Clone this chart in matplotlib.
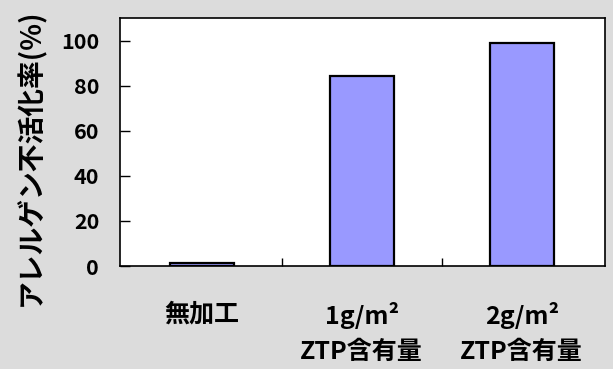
import matplotlib
matplotlib.use("Agg")
import matplotlib.pyplot as plt
import numpy as np

plt.rcParams['font.family'] = ['Noto Sans CJK JP', 'DejaVu Sans']

categories = ["無加工", "1g/m²\nZTP含有量", "2g/m²\nZTP含有量"]
values = [1.5, 84.3, 99.0]
yticks = [0, 20, 40, 60, 80, 100]
ylabel = "アレルゲン不活化率(%)"

bg = "#dcdcdc"
fig = plt.figure(figsize=(6.13, 3.69), dpi=100, facecolor=bg)
ax = fig.add_axes([0.1958, 0.279, 0.791, 0.672])
ax.set_facecolor("white")

x = np.arange(len(categories))
ax.bar(x, values, width=0.4, color="#9999ff", edgecolor="black", linewidth=1.6, zorder=3)

ax.set_xlim(-0.51, 2.52)
ax.set_ylim(0, 110)
ax.set_yticks(yticks)
ax.set_yticklabels([str(v) for v in yticks], fontsize=15.5, fontweight="bold")
ax.tick_params(axis="y", direction="in", length=7, width=1, pad=15, left=True)

ax.set_xticks(x)
ax.set_xticklabels(categories, fontsize=18, fontweight="bold", linespacing=1.55)
ax.tick_params(axis="x", length=0, pad=26)
ax.set_xticks([0.5, 1.5], minor=True)
ax.tick_params(axis="x", which="minor", direction="in", length=6, width=1)

for s in ax.spines.values():
    s.set_color("black")
    s.set_linewidth(1.2)

fig.text(0.049, 0.575, ylabel, rotation=90, ha="center", va="center",
         fontsize=20, fontweight="bold")

fig.savefig("out.png", dpi=100, facecolor=bg)
